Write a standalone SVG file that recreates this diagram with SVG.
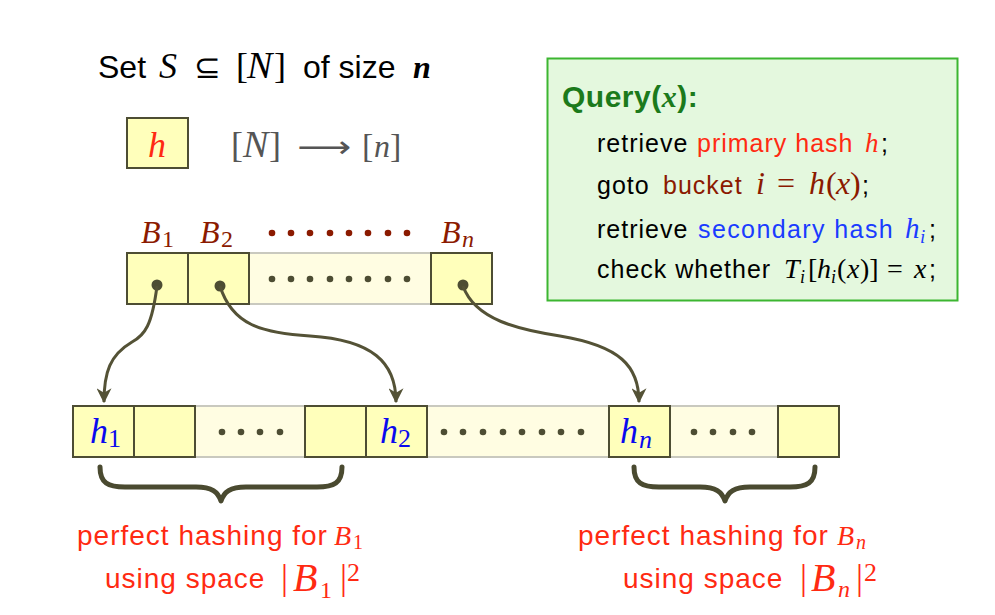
<svg xmlns="http://www.w3.org/2000/svg" width="995" height="615" viewBox="0 0 995 615">
<style>
.sans{font-family:"Liberation Sans",Arial,Helvetica,sans-serif}
.ser{font-family:"Liberation Serif","Times New Roman",serif}
.it{font-style:italic}
.cell{fill:#ffffbb;stroke:#4d4d33;stroke-width:2}
.light{fill:#fffde2;stroke:#c9c9bf;stroke-width:2}
.dot{fill:#4d4d33}
.rdot{fill:#8b1a00}
.conn{fill:none;stroke:#545236;stroke-width:3}
.brace{fill:none;stroke:#4a4a30;stroke-width:5;stroke-linecap:round;stroke-linejoin:round}
.red{fill:#ff2a12}
.dred{fill:#8b1a00}
.blue{fill:#0a0aee}
.ql{font-size:25px;letter-spacing:1px;fill:#000}
.m{letter-spacing:0}
.lab{font-size:28px;letter-spacing:1px}
</style>
<defs>
<marker id="ah" viewBox="0 0 12 12" refX="11" refY="6" markerWidth="5" markerHeight="5" orient="auto" markerUnits="strokeWidth">
<path d="M0,0 L12,6 L0,12 L3.5,6 z" fill="#545236"/>
</marker>
</defs>
<rect width="995" height="615" fill="#ffffff"/>

<g id="title">
<text y="78" font-size="32" fill="#000"><tspan class="sans" x="98">Set</tspan><tspan class="ser it" x="159" font-size="36">S</tspan><tspan class="ser" x="194">⊆</tspan><tspan class="ser" x="236" font-size="36">[</tspan><tspan class="ser it" x="247" font-size="38">N</tspan><tspan class="ser" x="274" font-size="36">]</tspan><tspan class="sans" x="303">of size</tspan><tspan class="ser it" font-weight="bold" x="413">n</tspan></text>
</g>

<g id="hashfn">
<rect class="cell" x="127" y="118" width="61" height="50"/>
<text class="ser it red" x="157" y="157" font-size="36" text-anchor="middle">h</text>
<text class="ser" y="157" font-size="36" fill="#555"><tspan x="231">[</tspan><tspan class="it" x="243" font-size="38">N</tspan><tspan x="269">]</tspan><tspan x="297" font-family="'DejaVu Sans',sans-serif" font-size="30" textLength="54" lengthAdjust="spacingAndGlyphs">⟶</tspan><tspan x="362" font-size="34">[</tspan><tspan class="it" x="374" font-size="32">n</tspan><tspan x="390" font-size="34">]</tspan></text>
</g>

<g id="query">
<rect x="547.5" y="58.5" width="410" height="242" fill="#e4f8de" stroke="#3cb631" stroke-width="2"/>
<text class="sans" x="562" y="107" font-size="30" letter-spacing="0.5" font-weight="bold" fill="#1b7a1b">Query(<tspan class="ser it">x</tspan>):</text>
<text class="sans ql" y="152"><tspan x="597">retrieve</tspan><tspan class="red" x="697">primary hash</tspan><tspan class="ser it red m" x="865" font-size="27">h</tspan><tspan x="881">;</tspan></text>
<text class="sans ql" y="194"><tspan x="597">goto</tspan><tspan class="dred" x="663">bucket</tspan><tspan class="ser it dred m" x="756" font-size="32">i</tspan><tspan class="ser dred m" x="777" font-size="32">=</tspan><tspan class="ser it dred m" x="809" font-size="32">h</tspan><tspan class="ser dred m" x="826" font-size="32">(</tspan><tspan class="ser it dred m" x="836" font-size="32">x</tspan><tspan class="ser dred m" x="850" font-size="32">)</tspan><tspan x="862">;</tspan></text>
<text class="sans ql" y="238"><tspan x="597">retrieve</tspan><tspan x="698" fill="#1a3cff" letter-spacing="1.4">secondary hash</tspan><tspan class="ser it m" x="905" font-size="29" fill="#1a3cff">h</tspan><tspan class="ser it m" x="920" y="243" font-size="19" fill="#1a3cff">i</tspan><tspan x="929" y="238">;</tspan></text>
<text class="sans ql" y="278"><tspan x="597">check whether</tspan><tspan class="ser it m" x="784" font-size="28">T</tspan><tspan class="ser it m" x="800" y="283" font-size="18">i</tspan><tspan class="ser m" x="808" y="278" font-size="28">[</tspan><tspan class="ser it m" x="817" font-size="28">h</tspan><tspan class="ser it m" x="831" y="283" font-size="18">i</tspan><tspan class="ser m" x="837" y="278" font-size="28">(</tspan><tspan class="ser it m" x="847" font-size="28">x</tspan><tspan class="ser m" x="860" font-size="28">)]</tspan><tspan class="ser m" x="887" font-size="28">=</tspan><tspan class="ser it m" x="914" font-size="28">x</tspan><tspan x="929">;</tspan></text>
</g>

<g id="buckets">
<rect class="light" x="249" y="253" width="182" height="51"/>
<rect class="cell" x="127" y="253" width="61" height="51"/>
<rect class="cell" x="188" y="253" width="61" height="51"/>
<rect class="cell" x="431" y="253" width="61" height="51"/>
<g class="dot">
<circle cx="157" cy="285" r="5.5"/><circle cx="220" cy="286" r="5.5"/><circle cx="463" cy="285" r="5.5"/>
<circle cx="272" cy="279" r="3.3"/><circle cx="291" cy="279" r="3.3"/><circle cx="310" cy="279" r="3.3"/><circle cx="330" cy="279" r="3.3"/><circle cx="349" cy="279" r="3.3"/><circle cx="368" cy="279" r="3.3"/><circle cx="388" cy="279" r="3.3"/><circle cx="407" cy="279" r="3.3"/>
</g>
<g class="rdot">
<circle cx="272" cy="233" r="3.3"/><circle cx="291" cy="233" r="3.3"/><circle cx="310" cy="233" r="3.3"/><circle cx="330" cy="233" r="3.3"/><circle cx="349" cy="233" r="3.3"/><circle cx="368" cy="233" r="3.3"/><circle cx="388" cy="233" r="3.3"/><circle cx="407" cy="233" r="3.3"/>
</g>
<text class="ser dred" y="243" font-size="32"><tspan class="it" x="141">B</tspan><tspan x="162" y="247" font-size="24">1</tspan></text>
<text class="ser dred" y="243" font-size="32"><tspan class="it" x="200">B</tspan><tspan x="221" y="247" font-size="24">2</tspan></text>
<text class="ser dred" y="243" font-size="32"><tspan class="it" x="441">B</tspan><tspan class="it" x="462" y="247" font-size="24">n</tspan></text>
</g>

<g id="tables">
<rect class="light" x="73" y="406" width="766" height="51"/>
<rect class="cell" x="73" y="406" width="61" height="51"/>
<rect class="cell" x="134" y="406" width="61" height="51"/>
<rect class="cell" x="305" y="406" width="61" height="51"/>
<rect class="cell" x="366" y="406" width="61" height="51"/>
<rect class="cell" x="609" y="406" width="61" height="51"/>
<rect class="cell" x="778" y="406" width="61" height="51"/>
<g class="dot">
<circle cx="222" cy="432" r="3.3"/><circle cx="241" cy="432" r="3.3"/><circle cx="260" cy="432" r="3.3"/><circle cx="280" cy="432" r="3.3"/>
<circle cx="444" cy="432" r="3.3"/><circle cx="463" cy="432" r="3.3"/><circle cx="483" cy="432" r="3.3"/><circle cx="503" cy="432" r="3.3"/><circle cx="522" cy="432" r="3.3"/><circle cx="542" cy="432" r="3.3"/><circle cx="561" cy="432" r="3.3"/><circle cx="581" cy="432" r="3.3"/>
<circle cx="694" cy="432" r="3.3"/><circle cx="713" cy="432" r="3.3"/><circle cx="733" cy="432" r="3.3"/><circle cx="752" cy="432" r="3.3"/>
</g>
<text class="ser blue" y="443" font-size="36"><tspan class="it" x="90">h</tspan><tspan x="108" y="447" font-size="26">1</tspan></text>
<text class="ser blue" y="443" font-size="36"><tspan class="it" x="380">h</tspan><tspan x="398" y="447" font-size="26">2</tspan></text>
<text class="ser blue" y="443" font-size="36"><tspan class="it" x="620">h</tspan><tspan class="it" x="639" y="448" font-size="26">n</tspan></text>
</g>

<g id="connectors">
<path class="conn" d="M157,286 C152,325 145,335 132,342 C110,355 104,372 104,402" marker-end="url(#ah)"/>
<path class="conn" d="M220,286 C232,325 262,333 310,336 C372,340 396,362 396,402" marker-end="url(#ah)"/>
<path class="conn" d="M463,286 C475,320 520,330 560,336 C620,346 639,366 639,402" marker-end="url(#ah)"/>
</g>

<g id="braces">
<path class="brace" d="M100,467 C100,483 108,487 125,487 L196,487 C212,487 218,492 221,501 C224,492 230,487 246,487 L317,487 C334,487 342,483 342,467"/>
<path class="brace" d="M634,467 C634,483 642,487 659,487 L700,487 C716,487 722,492 725,501 C728,492 734,487 750,487 L790,487 C807,487 815,483 815,467"/>
</g>

<g id="label1">
<text class="sans red lab" x="77" y="545">perfect hashing for<tspan class="ser it m" x="334" font-size="28">B</tspan><tspan class="ser m" x="353" y="549" font-size="20">1</tspan></text>
<text class="sans red lab" x="105" y="588">using space<tspan class="ser m" x="281" y="589" font-size="35">|</tspan><tspan class="ser it m" x="293" y="591" font-size="40">B</tspan><tspan class="ser m" x="320" y="598" font-size="24">1</tspan><tspan class="ser m" x="340" y="589" font-size="35">|</tspan><tspan class="ser m" x="347" y="581" font-size="26">2</tspan></text>
</g>

<g id="labeln">
<text class="sans red lab" x="578" y="545">perfect hashing for<tspan class="ser it m" x="837" font-size="28">B</tspan><tspan class="ser it m" x="856" y="549" font-size="20">n</tspan></text>
<text class="sans red lab" x="623" y="588">using space<tspan class="ser m" x="800" y="589" font-size="35">|</tspan><tspan class="ser it m" x="811" y="591" font-size="40">B</tspan><tspan class="ser it m" x="838" y="597" font-size="24">n</tspan><tspan class="ser m" x="856" y="589" font-size="35">|</tspan><tspan class="ser m" x="864" y="581" font-size="26">2</tspan></text>
</g>
</svg>
